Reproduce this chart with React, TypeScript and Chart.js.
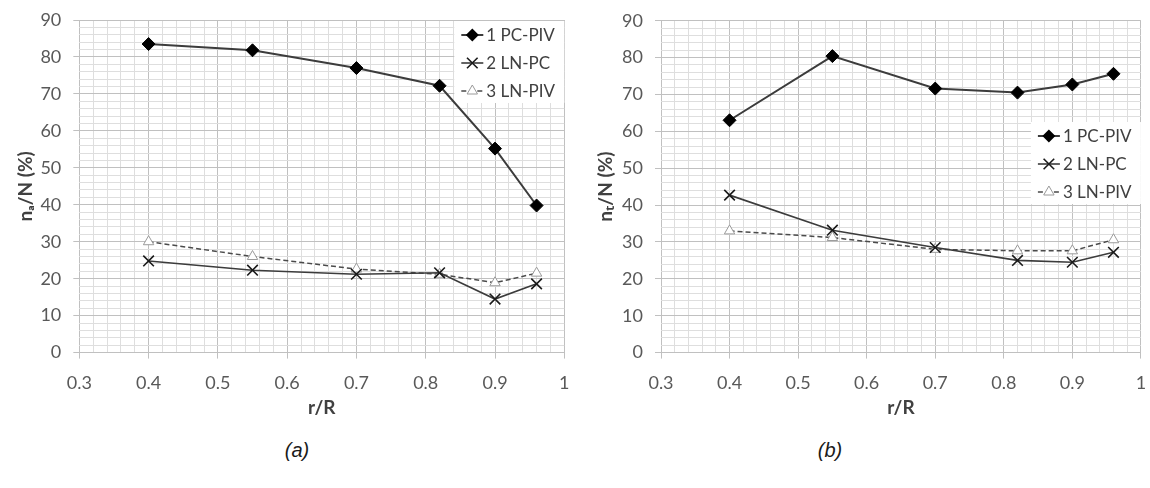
import React, { useEffect, useRef } from 'react';
import { Chart, registerables } from 'chart.js';

Chart.register(...registerables);

// ---------------- data ----------------
const R_VALUES = [0.4, 0.55, 0.7, 0.82, 0.9, 0.96];

const A_PC_PIV = [83.5, 81.8, 77.0, 72.2, 55.2, 39.8];
const A_LN_PC = [24.8, 22.3, 21.2, 21.6, 14.5, 18.6];
const A_LN_PIV = [30.0, 26.0, 22.6, 21.2, 18.9, 21.5];

const T_PC_PIV = [63.0, 80.4, 71.6, 70.5, 72.7, 75.6];
const T_LN_PC = [42.7, 33.2, 28.5, 25.0, 24.5, 27.2];
const T_LN_PIV = [33.0, 31.2, 28.0, 27.6, 27.6, 30.6];

const SERIES_LABELS = ['1 PC-PIV', '2 LN-PC', '3 LN-PIV'];

const X_TICK_LABELS = ['0.3', '0.4', '0.5', '0.6', '0.7', '0.8', '0.9', '1'];
const Y_TICK_LABELS = ['0', '10', '20', '30', '40', '50', '60', '70', '80', '90'];
const X_MIN = 0.3;
const X_MAX = 1;
const X_MAJOR = 0.1;
const X_MINOR = 0.02;
const Y_MIN = 0;
const Y_MAX = 90;
const Y_MAJOR = 10;
const Y_MINOR = 2;

const X_TITLE = 'r/R';
const Y_TITLE_A = 'n\u2090/N (%)';
const Y_TITLE_B = 'n\u209C/N (%)';
const CAPTION_A = '(a)';
const CAPTION_B = '(b)';

// ---------------- styling ----------------
const FONT = 'Lato, "Open Sans", "DejaVu Sans", sans-serif';
const MAJOR_GRID = '#c0c0c0';
const MINOR_GRID = '#dedede';
const TICK_COLOR = '#595959';
const TITLE_COLOR = '#404040';

type Tick = { value: number; lbl: string; isMajor: boolean };

function buildTicks(min: number, major: number, minor: number, labels: string[]): Tick[] {
  const n = Math.round(((labels.length - 1) * major) / minor);
  const per = Math.round(major / minor);
  const out: Tick[] = [];
  for (let i = 0; i <= n; i++) {
    const v = Math.round((min + i * minor) * 10000) / 10000;
    const isMajor = i % per === 0;
    out.push({ value: v, lbl: isMajor ? labels[i / per] : '', isMajor });
  }
  return out;
}

const X_TICKS = buildTicks(X_MIN, X_MAJOR, X_MINOR, X_TICK_LABELS);
const Y_TICKS = buildTicks(Y_MIN, Y_MAJOR, Y_MINOR, Y_TICK_LABELS);

function drawMarker(ctx: CanvasRenderingContext2D, style: string, x: number, y: number, r: number) {
  ctx.beginPath();
  if (style === 'rectRot') {
    ctx.moveTo(x, y - r);
    ctx.lineTo(x + r, y);
    ctx.lineTo(x, y + r);
    ctx.lineTo(x - r, y);
    ctx.closePath();
    ctx.fill();
  } else if (style === 'crossRot') {
    const d = r * Math.SQRT1_2;
    ctx.moveTo(x - d, y - d);
    ctx.lineTo(x + d, y + d);
    ctx.moveTo(x - d, y + d);
    ctx.lineTo(x + d, y - d);
    ctx.stroke();
  } else if (style === 'triangle') {
    const s = Math.sin(Math.PI / 3) * r;
    ctx.moveTo(x, y - r);
    ctx.lineTo(x + s, y + r / 2);
    ctx.lineTo(x - s, y + r / 2);
    ctx.closePath();
    ctx.fill();
    ctx.stroke();
  }
}

const insideLegend = {
  id: 'insideLegend',
  beforeDatasetsDraw(chart: any, _args: any, opts: any) {
    const ctx: CanvasRenderingContext2D = chart.ctx;
    const area = chart.chartArea;
    const boxW = opts.boxWidth;
    const left = area.right - boxW;
    const top = opts.boxTop;
    ctx.save();
    ctx.fillStyle = '#ffffff';
    ctx.fillRect(left, top, boxW, opts.boxHeight);
    chart.data.datasets.forEach((ds: any, i: number) => {
      const y = top + opts.firstRow + i * opts.rowGap;
      const x0 = left + opts.sampleStart;
      const x1 = x0 + opts.sampleLen;
      ctx.save();
      ctx.strokeStyle = ds.borderColor;
      ctx.lineWidth = ds.borderWidth;
      ctx.setLineDash(ds.borderDash || []);
      ctx.beginPath();
      ctx.moveTo(x0, y);
      ctx.lineTo(x1, y);
      ctx.stroke();
      ctx.restore();
      ctx.save();
      ctx.fillStyle = ds.pointBackgroundColor;
      ctx.strokeStyle = ds.pointBorderColor;
      ctx.lineWidth = ds.pointBorderWidth;
      drawMarker(ctx, ds.pointStyle, (x0 + x1) / 2, y, ds.pointRadius);
      ctx.restore();
      ctx.fillStyle = TITLE_COLOR;
      ctx.font = `17px ${FONT}`;
      ctx.textBaseline = 'middle';
      ctx.textAlign = 'left';
      ctx.fillText(ds.label, x1 + opts.textGap, y + 1);
    });
    ctx.restore();
  },
};

function makeDatasets(values: number[][]) {
  const pts = (arr: number[]) => R_VALUES.map((x, i) => ({ x, y: arr[i] }));
  return [
    {
      label: SERIES_LABELS[0],
      data: pts(values[0]),
      borderColor: '#3c3c3c',
      borderWidth: 2,
      pointStyle: 'rectRot',
      pointRadius: 6.5,
      pointBackgroundColor: '#000000',
      pointBorderColor: '#000000',
      pointBorderWidth: 1,
    },
    {
      label: SERIES_LABELS[1],
      data: pts(values[1]),
      borderColor: '#3c3c3c',
      borderWidth: 1.6,
      pointStyle: 'crossRot',
      pointRadius: 7.5,
      pointBackgroundColor: '#1a1a1a',
      pointBorderColor: '#1a1a1a',
      pointBorderWidth: 1.6,
    },
    {
      label: SERIES_LABELS[2],
      data: pts(values[2]),
      borderColor: '#4a4a4a',
      borderWidth: 1.5,
      borderDash: [5, 3],
      pointStyle: 'triangle',
      pointRadius: 6,
      pointBackgroundColor: '#ffffff',
      pointBorderColor: '#9a9a9a',
      pointBorderWidth: 1,
    },
  ];
}

type Layout = {
  padTop: number;
  padRight: number;
  padBottom: number;
  yWidth: number;
  xHeight: number;
  yTitlePad: number;
  legendTop: number;
};

function makeConfig(yTitle: string, values: number[][], L: Layout): any {
  return {
    type: 'line',
    data: { datasets: makeDatasets(values) },
    plugins: [insideLegend],
    options: {
      responsive: false,
      animation: false,
      events: [],
      layout: { padding: { top: L.padTop, right: L.padRight, bottom: L.padBottom, left: 0 } },
      plugins: {
        legend: { display: false },
        tooltip: { enabled: false },
        insideLegend: {
          boxWidth: 110,
          boxTop: L.legendTop,
          boxHeight: 82,
          firstRow: 14,
          rowGap: 28,
          sampleStart: 7,
          sampleLen: 22,
          textGap: 3,
        },
      },
      scales: {
        x: {
          type: 'linear',
          min: X_MIN,
          max: X_MAX,
          afterBuildTicks: (s: any) => {
            s.ticks = X_TICKS.map((t) => ({ ...t }));
          },
          afterFit: (s: any) => {
            s.height = L.xHeight;
            s.paddingLeft = 0;
            s.paddingRight = 0;
          },
          border: { display: false },
          grid: {
            color: (c: any) => (c.tick && c.tick.isMajor ? MAJOR_GRID : MINOR_GRID),
            tickColor: (c: any) => (c.tick && c.tick.isMajor ? MAJOR_GRID : 'rgba(0,0,0,0)'),
            tickLength: 6,
            lineWidth: 1,
          },
          ticks: {
            autoSkip: false,
            maxRotation: 0,
            minRotation: 0,
            padding: 14,
            color: TICK_COLOR,
            font: { family: FONT, size: 18 },
            callback: (_v: any, i: number, ticks: any[]) => ticks[i].lbl,
          },
          title: {
            display: true,
            text: X_TITLE,
            color: TITLE_COLOR,
            font: { family: FONT, size: 19, weight: 'bold' },
            padding: { top: 4, bottom: 3 },
          },
        },
        y: {
          type: 'linear',
          min: Y_MIN,
          max: Y_MAX,
          afterBuildTicks: (s: any) => {
            s.ticks = Y_TICKS.map((t) => ({ ...t }));
          },
          afterFit: (s: any) => {
            s.width = L.yWidth;
            s.paddingTop = 0;
            s.paddingBottom = 0;
          },
          border: { display: false },
          grid: {
            color: (c: any) => (c.tick && c.tick.isMajor ? MAJOR_GRID : MINOR_GRID),
            tickColor: (c: any) => (c.tick && c.tick.isMajor ? MAJOR_GRID : 'rgba(0,0,0,0)'),
            tickLength: 6,
            lineWidth: 1,
          },
          ticks: {
            autoSkip: false,
            padding: 12,
            color: TICK_COLOR,
            font: { family: FONT, size: 18 },
            callback: (_v: any, i: number, ticks: any[]) => ticks[i].lbl,
          },
          title: {
            display: true,
            text: yTitle,
            color: TITLE_COLOR,
            font: { family: FONT, size: 19, weight: 'bold' },
            padding: { top: L.yTitlePad, bottom: 4 },
          },
        },
      },
    },
  };
}

function ChartPanel(props: {
  left: number;
  yTitle: string;
  values: number[][];
  layout: Layout;
}) {
  const ref = useRef<HTMLCanvasElement | null>(null);
  useEffect(() => {
    if (!ref.current) return;
    const chart = new Chart(ref.current, makeConfig(props.yTitle, props.values, props.layout));
    return () => chart.destroy();
  }, []);
  return (
    <canvas
      ref={ref}
      width={575}
      height={430}
      style={{ position: 'absolute', left: props.left, top: 0, width: 575, height: 430 }}
    />
  );
}

const captionStyle = (cx: number): React.CSSProperties => ({
  position: 'absolute',
  left: cx - 40,
  width: 80,
  top: 438,
  lineHeight: '24px',
  textAlign: 'center',
  fontFamily: '"Liberation Sans", Arial, sans-serif',
  fontStyle: 'italic',
  fontSize: 20,
  color: '#1a1a1a',
});

export default function App() {
  return (
    <div
      style={{
        position: 'absolute',
        left: 0,
        top: 0,
        width: 1150,
        height: 488,
        background: '#ffffff',
        overflow: 'hidden',
      }}
    >
      <ChartPanel
        left={0}
        yTitle={Y_TITLE_A}
        values={[A_PC_PIV, A_LN_PC, A_LN_PIV]}
        layout={{
          padTop: 20,
          padRight: 10.7,
          padBottom: 7.4,
          yWidth: 79.3,
          xHeight: 70,
          yTitlePad: 14.5,
          legendTop: 21,
        }}
      />
      <ChartPanel
        left={575}
        yTitle={Y_TITLE_B}
        values={[T_PC_PIV, T_LN_PC, T_LN_PIV]}
        layout={{
          padTop: 20.7,
          padRight: 3.5,
          padBottom: 7.4,
          yWidth: 86,
          xHeight: 70,
          yTitlePad: 19.5,
          legendTop: 122,
        }}
      />
      <div style={captionStyle(297)}>{CAPTION_A}</div>
      <div style={captionStyle(830)}>{CAPTION_B}</div>
    </div>
  );
}
